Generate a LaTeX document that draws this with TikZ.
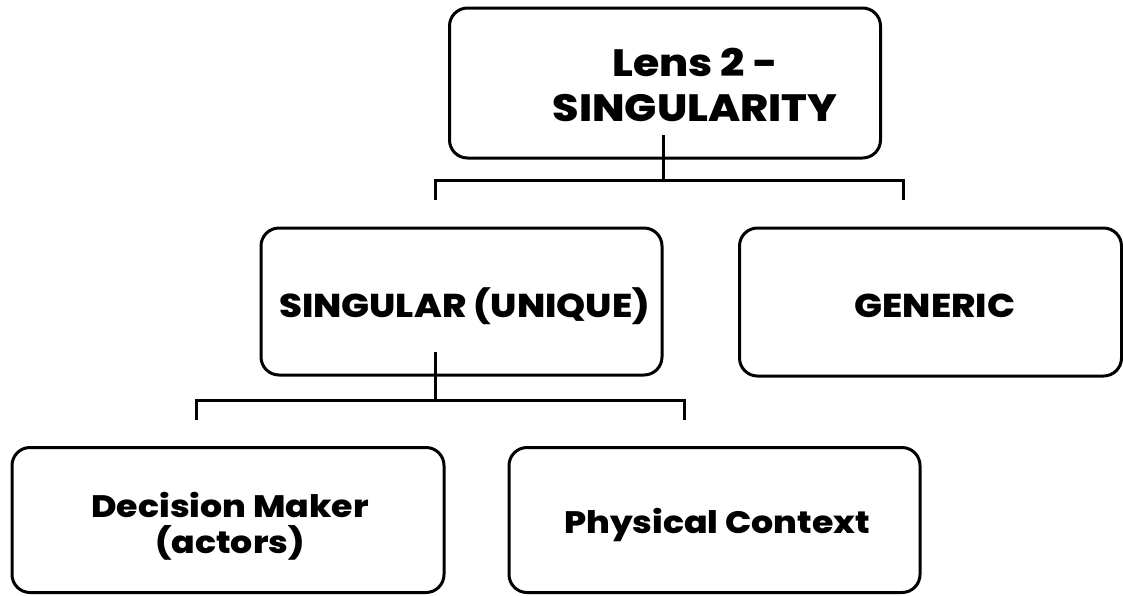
\documentclass[tikz,border=0pt]{standalone}
\usepackage{fontspec}
\setmainfont{Poppins}[BoldFont={* ExtraBold}, BoldFeatures={FakeStretch=1.12}]
\begin{document}
\begin{tikzpicture}[x=1pt,y=-1pt,
  box/.style={draw=black, line width=3pt, rounded corners=18pt, rectangle, inner sep=0pt},
  lbl/.style={inner sep=0pt, align=center, anchor=base, font=\bfseries\fontsize{33}{38}\selectfont},
  biglbl/.style={lbl, font=\bfseries\fontsize{38}{45}\selectfont},
  lowlbl/.style={lbl, font=\bfseries\fontsize{31}{36}\selectfont},
  link/.style={draw=black, line width=3pt}]
\useasboundingbox (0,0) rectangle (1123,595);
% boxes
\node[box, minimum width=431pt, minimum height=150pt] (top) at (665,83) {};
\node[box, minimum width=401pt, minimum height=147pt] (sing) at (461.5,301.5) {};
\node[box, minimum width=382pt, minimum height=148pt] (gen) at (930.5,302) {};
\node[box, minimum width=432pt, minimum height=145pt] (dec) at (228,520) {};
\node[box, minimum width=411pt, minimum height=145pt] (phys) at (714.5,520) {};
% labels (base anchor sits on the last line's baseline)
\node[biglbl] (top-t) at (695,121) {Lens 2 -\\SINGULARITY};
\node[lbl] (sing-t) at (464.5,317) {SINGULAR (UNIQUE)};
\node[lbl] (gen-t) at (935,317) {GENERIC};
\node[lowlbl] (dec-t) at (230,553) {Decision Maker\\(actors)};
\node[lowlbl] (phys-t) at (717,533) {Physical Context};
% first bracket
\coordinate (j1) at (663,180);
\coordinate (s1) at (663,135);
\coordinate (a1) at (435,200);
\coordinate (b1) at (903,200);
\draw[link] (s1) -- (j1);
\draw[link] (a1) |- (j1) -| (b1);
% second bracket
\coordinate (j2) at (435,400);
\coordinate (s2) at (435,352);
\coordinate (a2) at (196,420);
\coordinate (b2) at (684,420);
\draw[link] (s2) -- (j2);
\draw[link] (a2) |- (j2) -| (b2);
\end{tikzpicture}
\end{document}
